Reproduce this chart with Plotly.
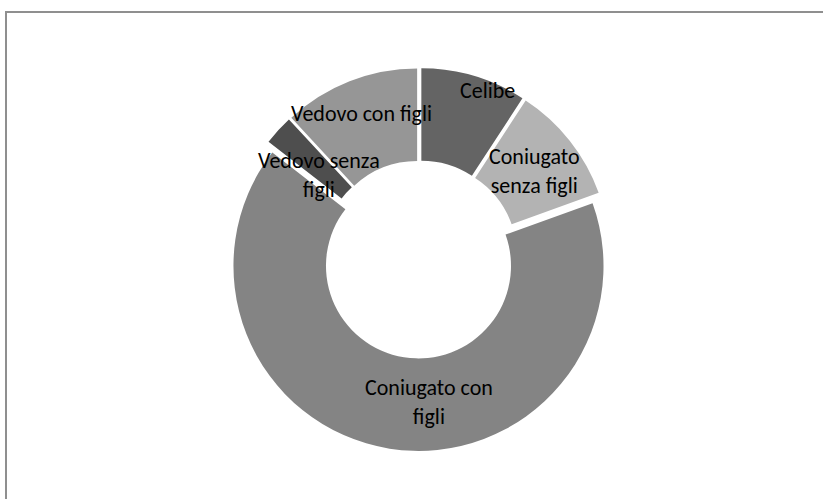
import plotly.graph_objects as go

# Marital status shares (percent)
categories = ["Celibe", "Coniugato senza figli", "Coniugato con figli",
              "Vedovo senza figli", "Vedovo con figli"]
shares = [9.2, 10.3, 66.0, 2.6, 11.9]
slice_colors = ["#646464", "#b3b3b3", "#848484", "#4e4e4e", "#969696"]

# Slice captions (line-broken) and their anchor points in pixels
captions = ["Celibe", "Coniugato<br>senza figli", "Coniugato con<br>figli",
            "Vedovo senza<br>figli", "Vedovo con figli"]
caption_px = [(487, 91), (534, 171), (429, 402), (319, 175), (361, 113)]

W, H = 823, 499
FONT = "Carlito, Calibri, 'Liberation Sans Narrow', 'Open Sans', sans-serif"


def to_paper(px, py):
    return px / W, 1 - py / H


fig = go.Figure(go.Pie(
    labels=categories,
    values=shares,
    hole=0.5,
    sort=False,
    direction="clockwise",
    rotation=0,
    pull=0.035,
    marker=dict(colors=slice_colors, line=dict(color="white", width=0)),
    textinfo="none",
    hoverinfo="label+percent",
    showlegend=False,
    domain=dict(x=[228 / W, 611 / W], y=[1 - 451 / H, 1 - 68 / H]),
))

for text, (px, py) in zip(captions, caption_px):
    x, y = to_paper(px, py)
    fig.add_annotation(x=x, y=y, xref="paper", yref="paper", text=text,
                       showarrow=False, xanchor="center", yanchor="middle",
                       font=dict(family=FONT, size=22, color="#000000"))

# Chart-area frame
fig.add_shape(type="rect", xref="paper", yref="paper",
              x0=6 / W, x1=1.05, y0=-0.05, y1=1 - 12 / H,
              line=dict(color="#8f8f8f", width=2), fillcolor="rgba(0,0,0,0)")

fig.update_layout(
    width=W, height=H,
    margin=dict(l=0, r=0, t=0, b=0),
    paper_bgcolor="white",
    plot_bgcolor="white",
)

fig.write_html("out.html")
